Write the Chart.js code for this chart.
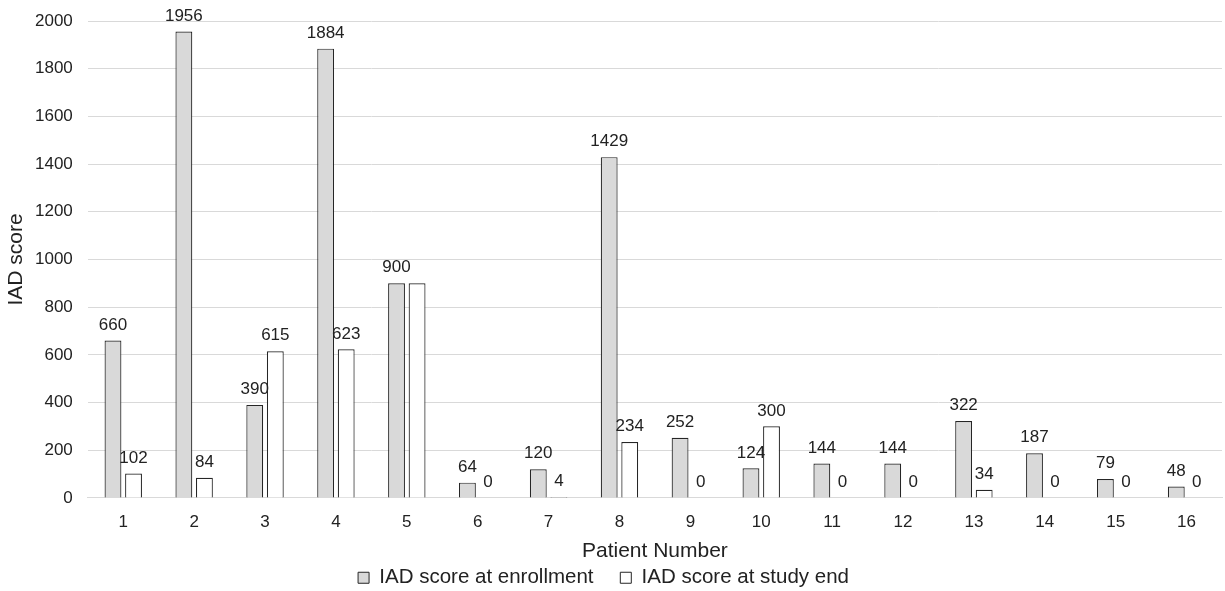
<!DOCTYPE html>
<html>
<head>
<meta charset="utf-8">
<script src="https://cdn.jsdelivr.net/npm/chart.js@4"></script>
<style>
  body { margin: 0; background: #fff; }
  #wrap { width: 1225px; height: 591px; }
</style>
</head>
<body>
<div id="wrap"><canvas id="myChart"></canvas></div>
<script>
// chart data
const patients = ['1', '2', '3', '4', '5', '6', '7', '8', '9', '10', '11', '12', '13', '14', '15', '16'];
const enrollment = [660, 1956, 390, 1884, 900, 64, 120, 1429, 252, 124, 144, 144, 322, 187, 79, 48];
const studyEnd = [102, 84, 615, 623, 900, 0, 4, 234, 0, 300, 0, 0, 34, 0, 0, 0];
const yTicks = [0, 200, 400, 600, 800, 1000, 1200, 1400, 1600, 1800, 2000];

const FONT = '"Liberation Sans", Arial, sans-serif';

// draws the value above each bar (skips a repeat label that would sit on top of the first one)
const valueLabels = {
  id: 'valueLabels',
  afterDatasetsDraw(chart) {
    const ctx = chart.ctx;
    ctx.save();
    ctx.font = '17px ' + FONT;
    ctx.fillStyle = '#222';
    ctx.textAlign = 'center';
    ctx.textBaseline = 'bottom';
    const first = chart.data.datasets[0].data;
    chart.data.datasets.forEach((ds, i) => {
      chart.getDatasetMeta(i).data.forEach((bar, j) => {
        if (i > 0 && ds.data[j] === first[j] && ds.data[j] > 0) return;
        ctx.fillText(ds.data[j], bar.x, bar.y - 7);
      });
    });
    ctx.restore();
  }
};

const myChart = document.getElementById('myChart');

new Chart(myChart, {
  type: 'bar',
  data: {
    labels: patients,
    datasets: [{
      label: 'IAD score at enrollment',
      data: enrollment,
      backgroundColor: '#d9d9d9',
      borderColor: '#262626',
      borderWidth: 1.2
    }, {
      label: 'IAD score at study end',
      data: studyEnd,
      backgroundColor: '#ffffff',
      borderColor: '#262626',
      borderWidth: 1.2
    }]
  },
  options: {
    responsive: true,
    maintainAspectRatio: false,
    animation: false,
    categoryPercentage: 0.58,
    barPercentage: 0.82,
    layout: { padding: { left: -15, right: 3, top: 21, bottom: -7 } },
    plugins: {
      tooltip: { enabled: false },
      legend: {
        position: 'bottom',
        labels: {
          color: '#222',
          font: { size: 20.5, family: FONT },
          boxWidth: 11,
          boxHeight: 11,
          padding: 4,
          useBorderRadius: false,
          generateLabels: chart => {
            const items = Chart.defaults.plugins.legend.labels.generateLabels(chart);
            items.forEach((it, i) => {
              it.lineWidth = 1;
              if (i < items.length - 1) it.text = it.text + '    ';
            });
            return items;
          }
        }
      }
    },
    scales: {
      x: {
        grid: { display: false },
        border: { color: '#d9d9d9' },
        ticks: { color: '#222', padding: 6, font: { size: 17, family: FONT } },
        title: {
          display: true,
          text: 'Patient Number',
          color: '#222',
          padding: { top: 0, bottom: 0 },
          font: { size: 21, family: FONT }
        }
      },
      y: {
        min: 0,
        max: 2000,
        afterBuildTicks: axis => { axis.ticks = yTicks.map(v => ({ value: v })); },
        // let the top tick label overhang the layout padding
        afterFit: axis => { axis.paddingTop = 0; },
        grid: { color: '#d9d9d9', drawTicks: false },
        border: { display: false },
        ticks: {
          color: '#222',
          padding: 15,
          font: { size: 17, family: FONT },
          callback: v => String(v)
        },
        title: {
          display: true,
          text: 'IAD score',
          color: '#222',
          padding: { top: 21, bottom: -7 },
          font: { size: 21, family: FONT, lineHeight: 1 }
        }
      }
    }
  },
  plugins: [valueLabels]
});
</script>
</body>
</html>
